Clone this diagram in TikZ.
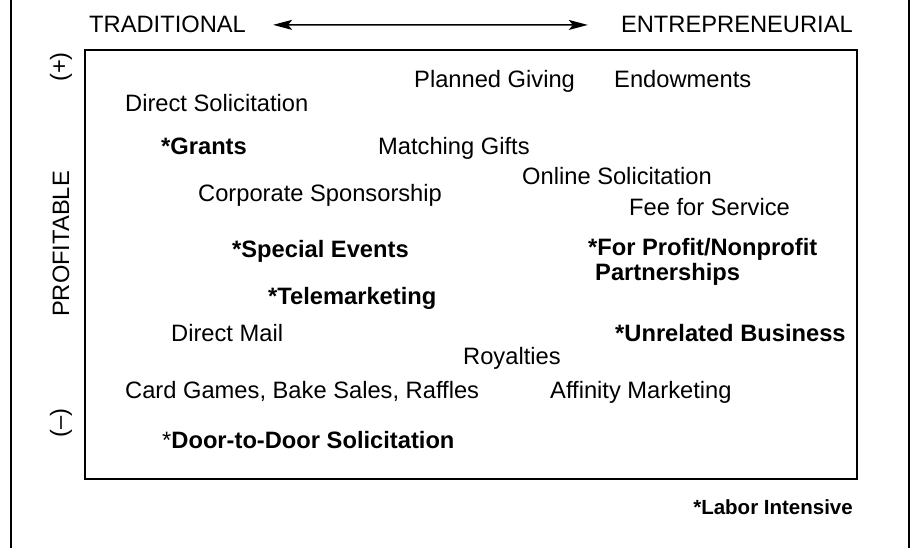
\documentclass[tikz,border=0pt]{standalone}
\usepackage{fontspec}
\setmainfont{Liberation Sans}
\usetikzlibrary{arrows.meta}
\begin{document}
\begin{tikzpicture}[x=1pt,y=-1pt]
		\tikzstyle{lbl} = [font=\fontsize{23.7}{26}\selectfont, anchor=base west, inner sep=0pt]
		\tikzstyle{blbl} = [lbl, font=\fontsize{23.7}{26}\selectfont\bfseries]
		\tikzstyle{side} = [font=\fontsize{23.7}{26}\selectfont, rotate=90, inner sep=0pt]
		\tikzstyle{frame} = [line width=2pt, black]
		\tikzstyle{arrow} = [line width=1.5pt,<->,>={Stealth[length=19pt,width=10pt,inset=4pt]}]
		
		\useasboundingbox (0,0) rectangle (914,548);
		\draw [frame] (11,0) -- (11,548);
		\draw [frame] (909,0) -- (909,548);
		\draw [frame] (85,50) rectangle (857,479);
		
		\node (trad) [lbl] at (89,33) {TRADITIONAL};
		\node (entre) [lbl, anchor=base east] at (853,33) {ENTREPRENEURIAL};
		\draw [arrow, shorten <=27pt, shorten >=33pt] (trad) -- (entre);
		
		\node (plus) [side] at (61,67) {(+)};
		\node (profit) [side] at (61,244) {PROFITABLE};
		\node (minus) [side] at (61,423) {(\textendash)};
		
		\node (planned) [lbl] at (414,88) {Planned Giving};
		\node (endow) [lbl] at (614,88) {Endowments};
		\node (direct) [lbl] at (125,112) {Direct Solicitation};
		\node (grants) [blbl] at (161,155) {*Grants};
		\node (matching) [lbl] at (378,155) {Matching Gifts};
		\node (online) [lbl] at (522,185) {Online Solicitation};
		\node (corp) [lbl] at (198,202) {Corporate Sponsorship};
		\node (fee) [lbl] at (629,216) {Fee for Service};
		\node (special) [blbl] at (232,258) {*Special Events};
		\node (forprofit) [blbl] at (588,256) {*For Profit/Nonprofit};
		\node (partner) [blbl] at (595,281) {Partnerships};
		\node (tele) [blbl] at (268,305) {*Telemarketing};
		\node (mail) [lbl] at (171,342) {Direct Mail};
		\node (unrel) [blbl] at (615,342) {*Unrelated Business};
		\node (royal) [lbl] at (463,365) {Royalties};
		\node (card) [lbl] at (125,399) {Card Games, Bake Sales, Raffles};
		\node (affin) [lbl] at (550,399) {Affinity Marketing};
		\node (door) [lbl] at (162,448) {*\textbf{Door-to-Door Solicitation}};
		\node (labor) [lbl, font=\fontsize{20.5}{22}\selectfont\bfseries, anchor=base east] at (853,514) {*Labor Intensive};
		\end{tikzpicture}
\end{document}
